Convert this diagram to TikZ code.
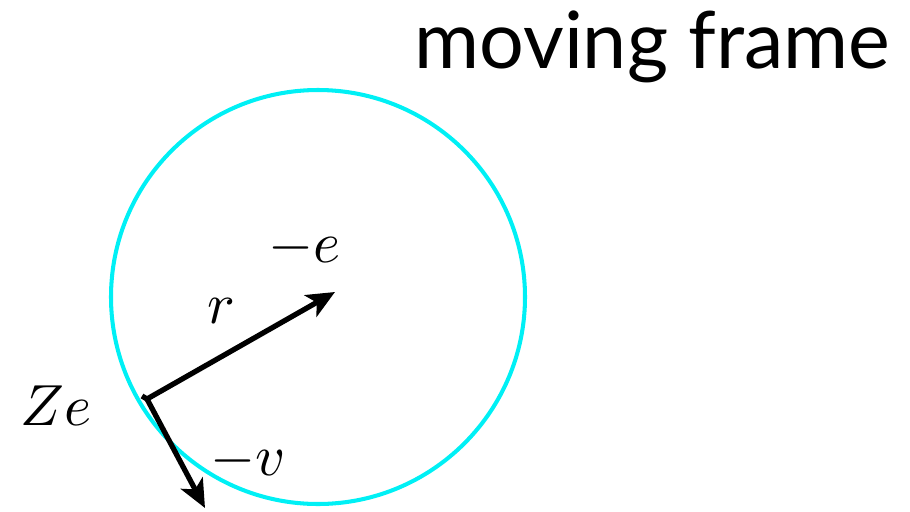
\documentclass[tikz,border=0pt]{standalone}
\usepackage{fontspec}
\newfontfamily\titlefont{Lato}
\usetikzlibrary{arrows.meta,positioning}
\definecolor{orbitcyan}{HTML}{00F0F5}
\newcommand{\symbtext}[1]{\scalebox{3.3}{$#1$}}

\begin{document}
\begin{tikzpicture}[
    x=0.02cm,
    y=-0.02cm,
    vec/.style={-{Stealth[length=16pt,width=14pt,inset=4pt]}, line width=3pt, draw=black},
    symb/.style={inner sep=0pt, anchor=base west}
  ]
    \useasboundingbox (0,0) rectangle (910,511);

    % orbit of the nucleus seen from the electron
    \draw[orbitcyan, line width=2.3pt] (318,297) circle (207);

    \node[anchor=base west, font=\titlefont\fontsize{45}{50}\selectfont, inner sep=0pt] (title) at (414,68) {moving frame};

    \coordinate (charge) at (147,399);
    \coordinate (electron) at (335,292);
    \coordinate (vtip) at (205,508);

    \draw[line width=3pt] (142,396) -- (charge);
    \draw[vec] (charge) -- (electron);
    \draw[vec] (charge) -- (vtip);

    \node[symb] (L-e) at (268,262) {\symbtext{-e}};
    \node[symb] (L-r) at (207,323) {\symbtext{r}};
    \node[symb] (L-Ze) at (20,425) {\symbtext{Ze}};
    \node[symb] (L-v) at (210,475) {\symbtext{-v}};

  \end{tikzpicture}
\end{document}
